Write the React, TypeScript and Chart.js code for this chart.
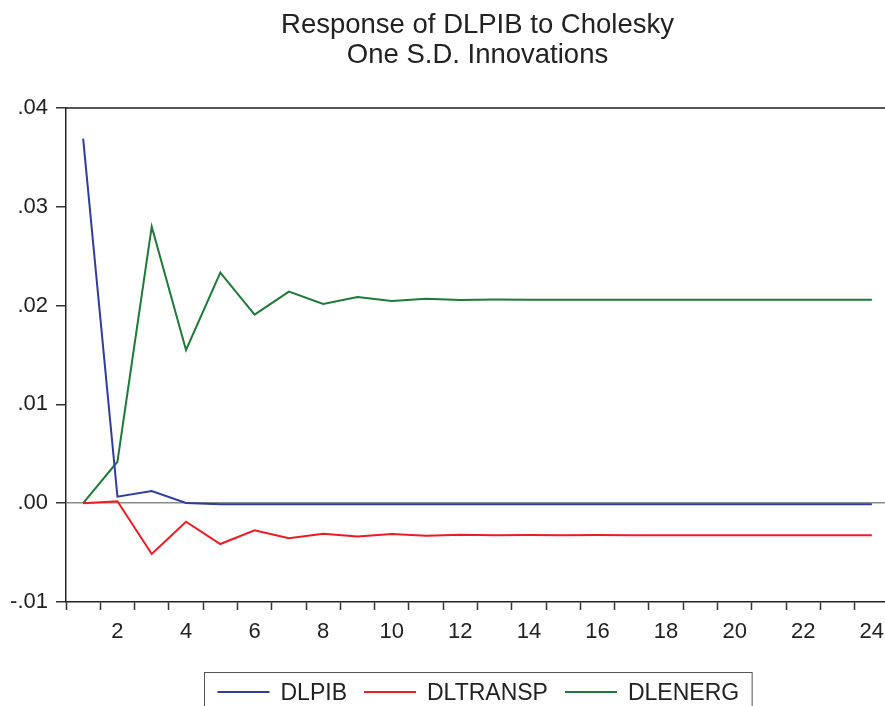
import React, { useEffect, useRef } from "react";
import { Chart, registerables } from "chart.js";

Chart.register(...registerables);

const periods = ["1","2","3","4","5","6","7","8","9","10","11","12","13","14","15","16","17","18","19","20","21","22","23","24"];

const dlpib = [0.0369, 0.00066, 0.00123, 0.00003, -0.0001, -0.0001, -0.0001, -0.00011, -0.0001, -0.0001, -0.0001, -0.0001, -0.0001, -0.0001, -0.0001, -0.0001, -0.0001, -0.0001, -0.0001, -0.0001, -0.0001, -0.0001, -0.0001, -0.0001];
const dltransp = [0, 0.0002, -0.00514, -0.00187, -0.00413, -0.00274, -0.00355, -0.00309, -0.00337, -0.00312, -0.00329, -0.00319, -0.00325, -0.00322, -0.00324, -0.00323, -0.00325, -0.00325, -0.00325, -0.00325, -0.00325, -0.00325, -0.00325, -0.00325];
const dlenerg = [0, 0.0042, 0.02799, 0.01551, 0.02333, 0.01908, 0.02141, 0.02016, 0.02087, 0.02047, 0.0207, 0.02057, 0.02062, 0.0206, 0.0206, 0.0206, 0.0206, 0.0206, 0.0206, 0.0206, 0.0206, 0.0206, 0.0206, 0.0206];

const seriesNames = ["DLPIB", "DLTRANSP", "DLENERG"];
const seriesColors = ["#2E3D9E", "#ED1C24", "#1F7A3A"];
const titleLines = ["Response of DLPIB to Cholesky", "One S.D. Innovations"];

const yMin = -0.01;
const yMax = 0.04;
const yStep = 0.01;

const FONT = "'Liberation Sans', Arial, Helvetica, sans-serif";

const fmtY = (v: number) => {
  const s = Number(v).toFixed(2);
  return s.replace(/^(-?)0\./, "$1.");
};

const framePlugin = {
  id: "frame",
  afterDatasetsDraw(chart: any) {
    const { ctx, chartArea } = chart;
    ctx.save();
    ctx.strokeStyle = "#222";
    ctx.lineWidth = 1.5;
    ctx.beginPath();
    ctx.moveTo(chartArea.left, chartArea.top);
    ctx.lineTo(chartArea.right, chartArea.top);
    ctx.lineTo(chartArea.right, chartArea.bottom);
    ctx.stroke();
    ctx.restore();
  },
};

const titlePlugin = {
  id: "customTitle",
  afterDraw(chart: any) {
    const { ctx, chartArea } = chart;
    const cx = (chartArea.left + chartArea.right) / 2;
    ctx.save();
    ctx.fillStyle = "#222";
    ctx.font = `27.5px ${FONT}`;
    ctx.textAlign = "center";
    ctx.textBaseline = "alphabetic";
    ctx.fillText(titleLines[0], cx, 33);
    ctx.fillText(titleLines[1], cx, 63);
    ctx.restore();
  },
};

const legendPlugin = {
  id: "customLegend",
  afterDraw(chart: any) {
    const { ctx, chartArea } = chart;
    const cx = (chartArea.left + chartArea.right) / 2;
    ctx.save();
    ctx.font = `23px ${FONT}`;
    const lineLen = 52;
    const gapLT = 11;
    const gapItem = 17;
    const pad = 13;
    const items = chart.data.datasets.map((d: any) => ({
      label: d.label,
      color: d.borderColor,
      w: ctx.measureText(d.label).width,
    }));
    let total = pad * 2;
    items.forEach((it: any, i: number) => {
      total += lineLen + gapLT + it.w + (i < items.length - 1 ? gapItem : 0);
    });
    const left = Math.round(cx - total / 2) + 0.5;
    const top = 672.5;
    ctx.strokeStyle = "#555";
    ctx.lineWidth = 1;
    ctx.strokeRect(left, top, total, 60);
    let x = left + pad;
    const ly = 692;
    items.forEach((it: any) => {
      ctx.strokeStyle = it.color;
      ctx.lineWidth = 2;
      ctx.beginPath();
      ctx.moveTo(x, ly);
      ctx.lineTo(x + lineLen, ly);
      ctx.stroke();
      x += lineLen + gapLT;
      ctx.fillStyle = "#222";
      ctx.textBaseline = "alphabetic";
      ctx.textAlign = "left";
      ctx.fillText(it.label, x, 699.5);
      x += it.w + gapItem;
    });
    ctx.restore();
  },
};

export default function App() {
  const ref = useRef<HTMLCanvasElement | null>(null);

  useEffect(() => {
    if (!ref.current) return;
    Chart.defaults.font.family = FONT;
    const seriesData = [dlpib, dltransp, dlenerg];
    const chart = new Chart(ref.current, {
      type: "line",
      data: {
        labels: periods,
        datasets: seriesNames.map((name, i) => ({
          label: name,
          data: seriesData[i],
          borderColor: seriesColors[i],
          backgroundColor: seriesColors[i],
          borderWidth: 2,
          pointRadius: 0,
          tension: 0,
          fill: false,
        })),
      },
      options: {
        animation: false,
        responsive: false,
        devicePixelRatio: 1,
        layout: { padding: { left: 0, right: 71, top: 108, bottom: 64 } },
        plugins: {
          legend: { display: false },
          title: { display: false },
          tooltip: { enabled: false },
        },
        scales: {
          x: {
            type: "category",
            offset: true,
            afterFit: (s: any) => { s.height = 40; },
            grid: {
              offset: true,
              drawOnChartArea: false,
              tickLength: 8,
              tickColor: "#333",
              tickWidth: 1.5,
            },
            border: { display: true, color: "#222", width: 1.5 },
            ticks: {
              autoSkip: false,
              maxRotation: 0,
              minRotation: 0,
              padding: 9,
              color: "#222",
              font: { size: 22, family: FONT },
              callback: (_v: any, idx: number) => (idx % 2 === 1 ? periods[idx] : ""),
            },
          },
          y: {
            min: yMin,
            max: yMax,
            afterFit: (s: any) => { s.width = 66; },
            grid: {
              drawOnChartArea: true,
              color: (c: any) => (c.tick && Math.abs(c.tick.value) < 1e-9 ? "#8a8a8a" : "rgba(0,0,0,0)"),
              lineWidth: 1.5,
              tickLength: 10,
              tickColor: "#333",
              tickWidth: 1.5,
            },
            border: { display: true, color: "#222", width: 1.5 },
            ticks: {
              stepSize: yStep,
              padding: 8,
              color: "#222",
              font: { size: 22, family: FONT },
              callback: (v: any) => fmtY(v),
            },
          },
        },
      },
      plugins: [framePlugin, titlePlugin, legendPlugin],
    });
    return () => chart.destroy();
  }, []);

  return (
    <div style={{ position: "fixed", left: 0, top: 0, width: 885, height: 706, overflow: "hidden", background: "#fff" }}>
      <canvas ref={ref} width={960} height={706} style={{ display: "block", width: 960, height: 706 }} />
    </div>
  );
}
